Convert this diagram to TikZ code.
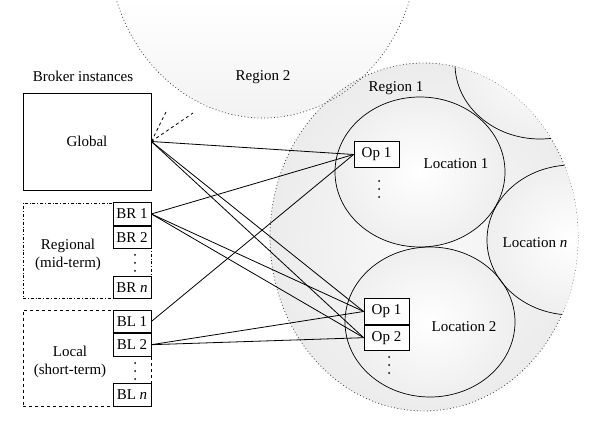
\documentclass[tikz,border=0pt]{standalone}
\usepackage{fontspec}
\setmainfont{Liberation Serif}
\usetikzlibrary{positioning}
\tikzset{opbox/.style={draw,fill=white,line width=0.7pt,minimum width=45pt,minimum height=25.5pt,inner sep=0pt}}
\tikzset{brbox/.style={draw,fill=white,line width=0.7pt,minimum width=38pt,minimum height=22.5pt,inner sep=0pt}}
\tikzset{region/.style={dash pattern=on 0.9pt off 2.4pt,line width=0.75pt,black!75}}
\tikzset{location/.style={inner color=white,outer color=gray!13}}
\tikzset{rim/.style={line width=0.7pt}}
\tikzset{link/.style={line width=0.8pt}}
\tikzset{dotsym/.style={fill,circle,inner sep=0pt,minimum size=2pt}}

\begin{document}
\begin{tikzpicture}[x=1pt,y=-1pt,font=\fontsize{15}{18}\selectfont]
  \useasboundingbox (0,0) rectangle (600,435);

  % regions
  \begin{scope}
    \clip (263,-57) ellipse [x radius=155, y radius=175];
    \shade[top color=white, bottom color=gray!10] (100,0) rectangle (430,120);
  \end{scope}
  \shade[inner color=gray!4, outer color=gray!15] (424,237) ellipse [x radius=154, y radius=174];
  \draw[region] (263,-57) ellipse [x radius=155, y radius=175];
  \draw[region] (424,237) ellipse [x radius=154, y radius=174];

  % locations
  \begin{scope}
    \clip (424,237) ellipse [x radius=154, y radius=174];
    \shade[location] (540,64) ellipse [x radius=85, y radius=75];
    \shade[location] (572,240) ellipse [x radius=85, y radius=75];
    \shade[location] (420,172) ellipse [x radius=85, y radius=75];
    \shade[location] (430,322) ellipse [x radius=85, y radius=75];
    \draw[rim] (540,64) ellipse [x radius=85, y radius=75];
    \draw[rim] (572,240) ellipse [x radius=85, y radius=75];
    \draw[rim] (420,172) ellipse [x radius=85, y radius=75];
    \draw[rim] (430,322) ellipse [x radius=85, y radius=75];
  \end{scope}

  \node (reg2) at (263,77) {Region 2};
  \node (reg1) at (396,88) {Region 1};
  \node (loc1) at (456,164) {Location 1};
  \node (loc2) at (464,327) {Location 2};
  \node (locn) at (535,243) {Location \textit{n}};

  % broker instances
  \node (title) at (83,76) {Broker instances};
  \node[draw,line width=0.7pt,minimum width=128pt,minimum height=97pt] (global) at (87,141.5) {Global};
  \node[draw,line width=0.7pt,dash dot,minimum width=128pt,minimum height=95pt] (regional) at (87,250.5) {};
  \node[draw,line width=0.7pt,dashed,minimum width=128pt,minimum height=96pt] (local) at (87,358) {};
  \node[align=center] (regtxt) at (68,255) {Regional\\(mid-term)};
  \node[align=center] (loctxt) at (70,362) {Local\\(short-term)};

  \node[brbox] (br1) at (132,214) {BR 1};
  \node[brbox,below=0pt of br1] (br2) {BR 2};
  \node[brbox] (brn) at (132,287.5) {BR \textit{n}};
  \node[brbox] (bl1) at (132,321.5) {BL 1};
  \node[brbox,below=0pt of bl1] (bl2) {BL 2};
  \node[brbox] (bln) at (132,395) {BL \textit{n}};

  % operators
  \node[opbox] (op11) at (376.5,154.5) {Op 1};
  \node[opbox] (op21) at (386.5,311.5) {Op 1};
  \node[opbox,below=0pt of op21] (op22) {Op 2};

  \foreach \y in {255,263,271} \node[dotsym] at (135,\y) {};
  \foreach \y in {363,371,379} \node[dotsym] at (135,\y) {};
  \foreach \y in {181,189,197} \node[dotsym] at (379,\y) {};
  \foreach \y in {357,365,373} \node[dotsym] at (389,\y) {};

  % connectors
  \coordinate (r2a) at (167,110);
  \coordinate (r2b) at (193,113);
  \draw[link,dashed] (global.east) -- (r2a);
  \draw[link,dashed] (global.east) -- (r2b);
  \foreach \src in {global,br1}
    \foreach \dst in {op11,op21,op22}
      \draw[link] (\src.east) -- (\dst.west);
  \draw[link] (bl1.east) -- (op11.west);
  \draw[link] (bl2.east) -- (op21.west);
  \draw[link] (bl2.east) -- (op22.west);
\end{tikzpicture}
\end{document}
